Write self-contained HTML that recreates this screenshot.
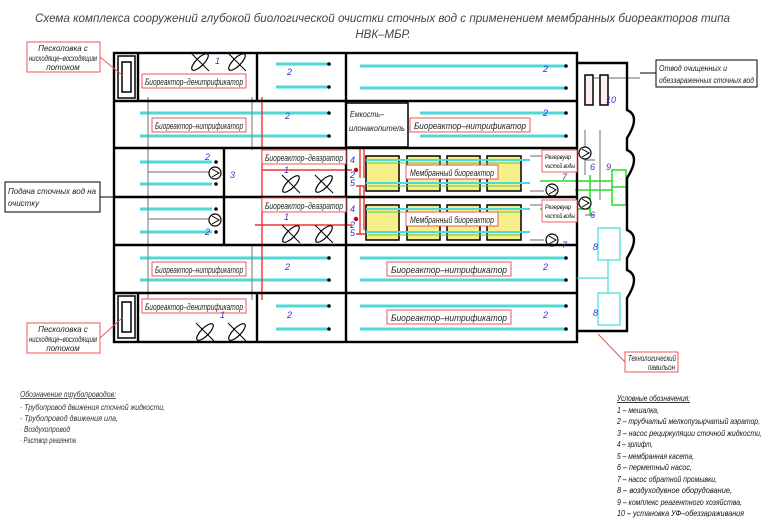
<!DOCTYPE html>
<html><head><meta charset="utf-8"><style>
body{margin:0;background:#fff}
svg{display:block}
text{font-family:"Liberation Sans",sans-serif;font-style:italic}
</style></head><body>
<svg width="765" height="520" viewBox="0 0 765 520" xmlns="http://www.w3.org/2000/svg">
<defs>
<g id="fan"><ellipse cx="0" cy="0" rx="11" ry="4" fill="none" stroke="#000" stroke-width="1.2" transform="rotate(-45)"/><line x1="-9" y1="-9" x2="9" y2="9" stroke="#000" stroke-width="1"/></g>
<g id="pump"><circle r="6" fill="#fff" stroke="#000" stroke-width="1.2"/><path d="M-3,-4 L4,0 L-3,4" fill="none" stroke="#000"/></g>
</defs>
<!-- title -->
<text x="35" y="22" font-size="11.5" textLength="695" lengthAdjust="spacingAndGlyphs" fill="#444">Схема комплекса сооружений глубокой биологической очистки сточных вод с применением мембранных биореакторов типа</text>
<text x="383" y="38" font-size="11.5" text-anchor="middle" fill="#444">НВК–МБР.</text>

<!-- aerators (cyan) -->
<g stroke="#4fd8d8" stroke-width="3">
<line x1="276" y1="64" x2="328" y2="64"/><line x1="276" y1="87" x2="328" y2="87"/>
<line x1="140" y1="113" x2="328" y2="113"/><line x1="140" y1="136" x2="328" y2="136"/>
<line x1="360" y1="66" x2="565" y2="66"/><line x1="360" y1="88" x2="565" y2="88"/>
<line x1="420" y1="113" x2="565" y2="113"/><line x1="420" y1="136" x2="565" y2="136"/>
<line x1="140" y1="162" x2="212" y2="162"/><line x1="140" y1="184" x2="212" y2="184"/>
<line x1="140" y1="209" x2="212" y2="209"/><line x1="140" y1="232" x2="212" y2="232"/>
<line x1="140" y1="258" x2="328" y2="258"/><line x1="140" y1="280" x2="328" y2="280"/>
<line x1="276" y1="306" x2="328" y2="306"/><line x1="276" y1="329" x2="328" y2="329"/>
<line x1="360" y1="258" x2="565" y2="258"/><line x1="360" y1="280" x2="565" y2="280"/>
<line x1="360" y1="306" x2="565" y2="306"/><line x1="360" y1="329" x2="565" y2="329"/>
</g>
<g fill="#000">
<circle cx="329" cy="64" r="1.8"/><circle cx="329" cy="87" r="1.8"/><circle cx="329" cy="113" r="1.8"/><circle cx="329" cy="136" r="1.8"/>
<circle cx="566" cy="66" r="1.8"/><circle cx="566" cy="88" r="1.8"/><circle cx="566" cy="113" r="1.8"/><circle cx="566" cy="136" r="1.8"/>
<circle cx="216" cy="162" r="1.8"/><circle cx="216" cy="184" r="1.8"/><circle cx="216" cy="209" r="1.8"/><circle cx="216" cy="232" r="1.8"/>
<circle cx="329" cy="258" r="1.8"/><circle cx="329" cy="280" r="1.8"/><circle cx="329" cy="306" r="1.8"/><circle cx="329" cy="329" r="1.8"/>
<circle cx="566" cy="258" r="1.8"/><circle cx="566" cy="280" r="1.8"/><circle cx="566" cy="306" r="1.8"/><circle cx="566" cy="329" r="1.8"/>
</g>

<!-- membrane cassettes -->
<g fill="#f7f08a" stroke="#000" stroke-width="1.5">
<rect x="366" y="156" width="33" height="35"/><rect x="407" y="156" width="33" height="35"/><rect x="447" y="156" width="33" height="35"/><rect x="487" y="156" width="34" height="35"/>
<rect x="366" y="205" width="33" height="35"/><rect x="407" y="205" width="33" height="35"/><rect x="447" y="205" width="33" height="35"/><rect x="487" y="205" width="34" height="35"/>
</g>
<g stroke="#4fd8d8" stroke-width="2"><line x1="366" y1="160" x2="530" y2="160"/><line x1="366" y1="183" x2="530" y2="183"/><line x1="366" y1="209" x2="530" y2="209"/><line x1="366" y1="232" x2="530" y2="232"/></g>
<g stroke="#5c5" stroke-width="1"><line x1="368" y1="163" x2="520" y2="163"/><line x1="368" y1="186" x2="520" y2="186"/><line x1="368" y1="212" x2="520" y2="212"/><line x1="368" y1="235" x2="520" y2="235"/></g>

<!-- grey pipes -->
<g stroke="#888" stroke-width="1.2" fill="none">
<line x1="148" y1="97" x2="148" y2="300"/><line x1="252" y1="97" x2="252" y2="150"/><line x1="252" y1="244" x2="252" y2="300"/>
<path d="M148,172 H212"/><path d="M148,219 H212"/>
<path d="M530,156 H544 M530,191 H544 M530,205 H544 M530,240 H544"/>
<path d="M585,100 V78 H640 M600,100 V78 M585,130 V175 M600,130 V200 M585,160 H595 M585,215 H595"/>
</g>
<!-- green -->
<g stroke="#2d2" stroke-width="1.5" fill="none">
<path d="M540,181 H612 M540,209 H590 M590,175 V215 M575,190 H612"/>
<rect x="612" y="170" width="14" height="35"/><line x1="612" y1="187" x2="626" y2="187"/>
</g>
<!-- red pipes -->
<g stroke="#e33" stroke-width="1.4" fill="none">
<path d="M262,97 V150 M262,170 H352 M262,150 V300 M255,225 H352"/>
<path d="M360,178 V147 M364,178 V147 M356,186 H366 M356,234 H366"/>
<path d="M360,186 V235 M364,230 V186"/>
</g>
<circle cx="356" cy="170" r="2.2" fill="#c00"/><circle cx="356" cy="219" r="2.2" fill="#c00"/>

<!-- fans -->
<use href="#fan" x="200" y="62"/><use href="#fan" x="237" y="62"/>
<use href="#fan" x="291" y="184"/><use href="#fan" x="324" y="184"/>
<use href="#fan" x="291" y="234"/><use href="#fan" x="324" y="234"/>
<use href="#fan" x="205" y="332"/><use href="#fan" x="237" y="332"/>
<use href="#pump" x="215" y="173"/><use href="#pump" x="215" y="220"/>
<use href="#pump" x="585" y="153"/><use href="#pump" x="552" y="190"/><use href="#pump" x="585" y="203"/><use href="#pump" x="552" y="240"/>

<!-- walls -->
<g stroke="#000" stroke-width="2.4" fill="none">
<rect x="114" y="53" width="463" height="289"/>
<line x1="114" y1="101" x2="577" y2="101"/><line x1="114" y1="148" x2="577" y2="148"/>
<line x1="114" y1="197" x2="577" y2="197"/><line x1="114" y1="245" x2="577" y2="245"/>
<line x1="114" y1="293" x2="577" y2="293"/>
<line x1="138" y1="53" x2="138" y2="101"/><line x1="138" y1="293" x2="138" y2="342"/>
<line x1="257" y1="53" x2="257" y2="101"/><line x1="257" y1="293" x2="257" y2="342"/>
<line x1="346" y1="53" x2="346" y2="148"/><line x1="346" y1="245" x2="346" y2="342"/>
<line x1="224" y1="148" x2="224" y2="245"/><line x1="346" y1="148" x2="346" y2="245"/>
<rect x="346" y="103" width="62" height="44" stroke-width="1.5"/>
<path d="M577,63 H627 V110 q14,6 0,28 V150 q14,6 0,28 V230 q14,6 0,28 V270 q14,6 0,28 V331 H577"/>
</g>
<!-- sand traps -->
<g stroke="#000" stroke-width="1.5" fill="none">
<rect x="118" y="56" width="17" height="42"/><rect x="122" y="62" width="9" height="30"/>
<rect x="118" y="296" width="17" height="42"/><rect x="122" y="302" width="9" height="30"/>
<rect x="585" y="75" width="8" height="30" fill="#fee"/><rect x="600" y="75" width="8" height="30" fill="#fee"/>
</g>
<!-- reservoir boxes -->
<g stroke="#e66" stroke-width="1" fill="#fff">
<rect x="542" y="150" width="35" height="22"/><rect x="542" y="200" width="35" height="22"/>
</g>
<g font-size="6"><text x="545" y="159" textLength="26" lengthAdjust="spacingAndGlyphs">Резервуар</text><text x="545" y="168" textLength="30" lengthAdjust="spacingAndGlyphs">чистой воды</text>
<text x="545" y="209" textLength="26" lengthAdjust="spacingAndGlyphs">Резервуар</text><text x="545" y="218" textLength="30" lengthAdjust="spacingAndGlyphs">чистой воды</text></g>
<!-- cyan air equipment -->
<g stroke="#4dd" stroke-width="1.2" fill="none"><rect x="598" y="228" width="22" height="32"/><rect x="598" y="293" width="22" height="32"/><path d="M608,260 V293 M577,278 H608"/></g>

<!-- labels with red boxes -->
<g stroke="#e55" stroke-width="1" fill="#fff">
<rect x="142" y="74" width="104" height="14"/><rect x="152" y="118" width="94" height="14"/>
<rect x="262" y="150" width="84" height="14"/><rect x="262" y="198" width="84" height="14"/>
<rect x="152" y="262" width="94" height="14"/><rect x="142" y="299" width="104" height="14"/>
<rect x="410" y="118" width="120" height="14"/><rect x="387" y="262" width="124" height="14"/><rect x="387" y="310" width="124" height="14"/>
<rect x="406" y="165" width="92" height="14"/><rect x="406" y="212" width="92" height="14"/>
</g>
<g font-size="9" fill="#222" lengthAdjust="spacingAndGlyphs">
<text x="145" y="85" textLength="98" lengthAdjust="spacingAndGlyphs">Биореактор–денитрификатор</text>
<text x="155" y="129" textLength="88" lengthAdjust="spacingAndGlyphs">Биореактор–нитрификатор</text>
<text x="265" y="161" textLength="78" lengthAdjust="spacingAndGlyphs">Биореактор–деаэратор</text>
<text x="265" y="209" textLength="78" lengthAdjust="spacingAndGlyphs">Биореактор–деаэратор</text>
<text x="155" y="273" textLength="88" lengthAdjust="spacingAndGlyphs">Биореактор–нитрификатор</text>
<text x="145" y="310" textLength="98" lengthAdjust="spacingAndGlyphs">Биореактор–денитрификатор</text>
<text x="414" y="129" textLength="112" lengthAdjust="spacingAndGlyphs">Биореактор–нитрификатор</text>
<text x="391" y="273" textLength="116" lengthAdjust="spacingAndGlyphs">Биореактор–нитрификатор</text>
<text x="391" y="321" textLength="116" lengthAdjust="spacingAndGlyphs">Биореактор–нитрификатор</text>
<text x="410" y="176" textLength="84" lengthAdjust="spacingAndGlyphs">Мембранный биореактор</text>
<text x="410" y="223" textLength="84" lengthAdjust="spacingAndGlyphs">Мембранный биореактор</text>
<text x="350" y="117" font-size="8" textLength="34" lengthAdjust="spacingAndGlyphs">Емкость–</text>
<text x="349" y="131" font-size="8" textLength="56" lengthAdjust="spacingAndGlyphs">илонакопитель</text>
</g>
<!-- number callouts -->
<g font-size="9" fill="#33c">
<text x="215" y="64">1</text><text x="287" y="75">2</text><text x="285" y="119">2</text><text x="543" y="116">2</text><text x="543" y="72">2</text>
<text x="205" y="160">2</text><text x="230" y="178">3</text><text x="284" y="173">1</text><text x="350" y="163">4</text><text x="350" y="178">2</text><text x="350" y="186">5</text>
<text x="350" y="212">4</text><text x="350" y="228">2</text><text x="350" y="236">5</text><text x="284" y="220">1</text><text x="205" y="235">2</text>
<text x="285" y="270">2</text><text x="543" y="270">2</text><text x="287" y="318">2</text><text x="543" y="318">2</text><text x="220" y="318">1</text>
<text x="590" y="170">6</text><text x="562" y="180">7</text><text x="590" y="218">6</text><text x="562" y="248">7</text><text x="606" y="170">9</text>
<text x="593" y="250">8</text><text x="593" y="316">8</text><text x="606" y="103">10</text>
</g>
<!-- side labels -->
<g stroke="#e55" fill="#fff"><rect x="27" y="42" width="73" height="30"/><rect x="27" y="323" width="73" height="30"/><rect x="625" y="352" width="53" height="20"/></g>
<g stroke="#e55" fill="none"><path d="M100,57 L122,75 M100,338 L122,318 M625,362 L598,334"/></g>
<rect x="5" y="182" width="95" height="30" fill="#fff" stroke="#000"/>
<rect x="656" y="60" width="101" height="27" fill="#fff" stroke="#000"/>
<path d="M100,197 H114 M640,73 H656" stroke="#000"/>
<g font-size="8" fill="#222">
<text x="63" y="51" text-anchor="middle">Песколовка с</text><text x="63" y="61" text-anchor="middle" textLength="68" lengthAdjust="spacingAndGlyphs">нисходяще–восходящим</text><text x="63" y="70" text-anchor="middle">потоком</text>
<text x="63" y="332" text-anchor="middle">Песколовка с</text><text x="63" y="342" text-anchor="middle" textLength="68" lengthAdjust="spacingAndGlyphs">нисходяще–восходящим</text><text x="63" y="351" text-anchor="middle">потоком</text>
<text x="8" y="194" textLength="88" lengthAdjust="spacingAndGlyphs">Подача сточных вод на</text><text x="8" y="206">очистку</text>
<text x="659" y="71" textLength="68" lengthAdjust="spacingAndGlyphs">Отвод очищенных и</text><text x="659" y="83" textLength="95" lengthAdjust="spacingAndGlyphs">обеззараженных сточных вод</text>
<text x="628" y="361" textLength="48" lengthAdjust="spacingAndGlyphs">Технологический</text><text x="648" y="370" textLength="27" lengthAdjust="spacingAndGlyphs">павильон</text>
</g>
<!-- legends -->
<g font-size="8" fill="#333">
<text x="20" y="397" text-decoration="underline" textLength="96" lengthAdjust="spacingAndGlyphs">Обозначение трубопроводов:</text>
<text x="20" y="410" textLength="145" lengthAdjust="spacingAndGlyphs"><tspan fill="#555">-</tspan> Трубопровод движения сточной жидкости,</text>
<text x="20" y="421" textLength="98" lengthAdjust="spacingAndGlyphs"><tspan fill="#e33">-</tspan> Трубопровод движения ила,</text>
<text x="20" y="432" textLength="50" lengthAdjust="spacingAndGlyphs"><tspan fill="#4dd">-</tspan> Воздухопровод</text>
<text x="20" y="443" textLength="56" lengthAdjust="spacingAndGlyphs"><tspan fill="#4dd">-</tspan> Раствор реагента</text>
</g>
<g font-size="8.5" fill="#111">
<text x="617" y="401" text-decoration="underline" textLength="73" lengthAdjust="spacingAndGlyphs">Условные обозначения:</text>
<text x="617" y="413" textLength="42" lengthAdjust="spacingAndGlyphs">1 – мешалка,</text>
<text x="617" y="424" textLength="143" lengthAdjust="spacingAndGlyphs">2 – трубчатый мелкопузырчатый аэратор,</text>
<text x="617" y="436" textLength="145" lengthAdjust="spacingAndGlyphs">3 – насос рециркуляции сточной жидкости,</text>
<text x="617" y="447" textLength="36" lengthAdjust="spacingAndGlyphs">4 – эрлифт,</text>
<text x="617" y="459" textLength="77" lengthAdjust="spacingAndGlyphs">5 – мембранная касета,</text>
<text x="617" y="470" textLength="75" lengthAdjust="spacingAndGlyphs">6 – перметный насос,</text>
<text x="617" y="482" textLength="100" lengthAdjust="spacingAndGlyphs">7 – насос обратной промывки,</text>
<text x="617" y="493" textLength="115" lengthAdjust="spacingAndGlyphs">8 – воздуходувное оборудование,</text>
<text x="617" y="505" textLength="125" lengthAdjust="spacingAndGlyphs">9 – комплекс реагентного хозяйства,</text>
<text x="617" y="516" textLength="127" lengthAdjust="spacingAndGlyphs">10 – установка УФ–обеззараживания</text>
</g>
</svg>
</body></html>
